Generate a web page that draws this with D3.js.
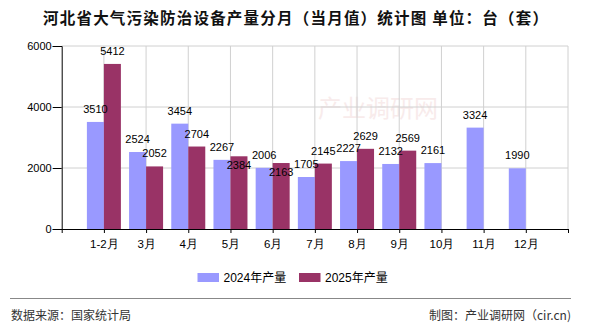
<!DOCTYPE html>
<html><head><meta charset="utf-8">
<script src="https://cdn.jsdelivr.net/npm/d3@7/dist/d3.min.js"></script>
<style>
body{margin:0;background:#fff;}
svg{display:block;font-family:"Liberation Sans","Noto Sans CJK SC",sans-serif;}
</style></head><body>
<svg id="c" width="590" height="330"></svg>
<script>
const categories = ["1-2月","3月","4月","5月","6月","7月","8月","9月","10月","11月","12月"];
const series2024 = [3510,2524,3454,2267,2006,1705,2227,2132,2161,3324,1990];
const series2025 = [5412,2052,2704,2384,2163,2145,2629,2569,null,null,null];
const seriesNames = ["2024年产量","2025年产量"];
const yTicks = [0,2000,4000,6000];
const colors = ["#9999ff","#993366"];

(function(){
const svg = d3.select("#c");
const pL = 61.7, pR = 568, pT = 46, pB = 229;
const x = d3.scaleLinear().domain([0, categories.length + 1]).range([pL, pR]);
const y = d3.scaleLinear().domain([0, 6000]).range([pB, pT]);
const bw = 17;

// title
svg.append("text").attr("x", 43).attr("y", 24)
  .attr("font-size", 15.5).attr("font-weight", "bold").attr("fill", "#111")
  .attr("font-family", "Noto Sans CJK SC")
  .attr("textLength", 505).attr("lengthAdjust", "spacing")
  .text("河北省大气污染防治设备产量分月（当月值）统计图 单位：台（套）");

// watermark
svg.append("text").attr("x", 378).attr("y", 117).attr("text-anchor", "middle")
  .attr("font-size", 24).attr("fill", "#f8ebeb").attr("font-family", "Noto Sans CJK SC")
  .text("产业调研网");

// grid
const g = svg.append("g");
g.selectAll("line.h").data(yTicks.filter(d => d > 0)).join("line")
  .attr("x1", pL).attr("x2", pR).attr("y1", d => y(d)).attr("y2", d => y(d))
  .attr("stroke", "#d0d0d0").attr("stroke-width", 1);
g.selectAll("line.v").data(d3.range(1, categories.length + 2)).join("line")
  .attr("x1", d => x(d)).attr("x2", d => x(d)).attr("y1", pT).attr("y2", pB)
  .attr("stroke", "#d0d0d0").attr("stroke-width", 1);

// bars
const bars = svg.append("g");
bars.selectAll("rect.a").data(series2024).join("rect")
  .attr("x", (d, i) => x(i + 1) - bw).attr("width", bw)
  .attr("y", d => y(d)).attr("height", d => y(0) - y(d)).attr("fill", colors[0]);
bars.selectAll("rect.b").data(series2025.map((d, i) => [d, i]).filter(p => p[0] != null)).join("rect")
  .attr("x", p => x(p[1] + 1)).attr("width", bw)
  .attr("y", p => y(p[0])).attr("height", p => y(0) - y(p[0])).attr("fill", colors[1]);

// axes
const yAxis = d3.axisLeft(y).tickValues(yTicks).tickSize(9).tickPadding(1).tickFormat(d3.format("d"));
const ya = svg.append("g").attr("transform", `translate(${pL},0)`).call(yAxis);
ya.select(".domain").attr("stroke", "#000");
ya.selectAll("text").attr("font-size", 11).attr("fill", "#000").attr("font-family", "Liberation Sans");

const xAxis = d3.axisBottom(x).tickValues(d3.range(0, categories.length + 2)).tickSize(4).tickSizeOuter(0)
  .tickFormat(d => (d >= 1 && d <= categories.length) ? categories[d - 1] : "");
const xa = svg.append("g").attr("transform", `translate(0,${pB})`).call(xAxis);
xa.select(".domain").attr("stroke", "#000");
xa.selectAll("text").attr("font-size", 11.5).attr("fill", "#000").attr("dy", "1.05em");

// value labels
const lab = svg.append("g").attr("font-size", 11).attr("fill", "#000").attr("text-anchor", "middle")
  .attr("font-family", "Liberation Sans");
const boxes = [];
series2024.forEach((v, i) => {
  const cx = x(i + 1) - bw / 2, by = y(v) - 9;
  const t = lab.append("text").attr("x", cx).attr("y", by).text(v);
  const w = t.node().getComputedTextLength();
  boxes[i] = {x0: cx - w / 2, x1: cx + w / 2, y0: by - 8, y1: by};
});
series2025.forEach((v, i) => {
  if (v == null) return;
  const cx = x(i + 1) + bw / 2;
  let by = y(v) - 9;
  const t = lab.append("text").attr("x", cx).attr("y", by).text(v);
  const w = t.node().getComputedTextLength();
  const b = boxes[i];
  const overlap = !(cx + w / 2 < b.x0 || cx - w / 2 > b.x1 || by < b.y0 || by - 8 > b.y1);
  if (overlap) t.attr("y", y(v) + 12.5);
});

// legend
const lg = svg.append("g");
seriesNames.forEach((n, i) => {
  const lx = 197.5 + i * 101.5;
  lg.append("rect").attr("x", lx).attr("y", 273).attr("width", 21.5).attr("height", 9).attr("fill", colors[i]);
  lg.append("text").attr("x", lx + 26).attr("y", 282).attr("font-size", 12).attr("fill", "#000").text(n);
});

// footer
svg.append("line").attr("x1", 10).attr("x2", 571).attr("y1", 298.5).attr("y2", 298.5)
  .attr("stroke", "#888").attr("stroke-width", 1);
svg.append("text").attr("x", 11).attr("y", 320).attr("font-size", 12).attr("fill", "#333")
  .attr("font-family", "Noto Sans CJK SC").text("数据来源：国家统计局");
svg.append("text").attr("x", 571).attr("y", 320).attr("text-anchor", "end").attr("font-size", 12).attr("fill", "#333")
  .attr("font-family", "Noto Sans CJK SC").text("制图：产业调研网（cir.cn)");
})();
</script>
</body></html>
